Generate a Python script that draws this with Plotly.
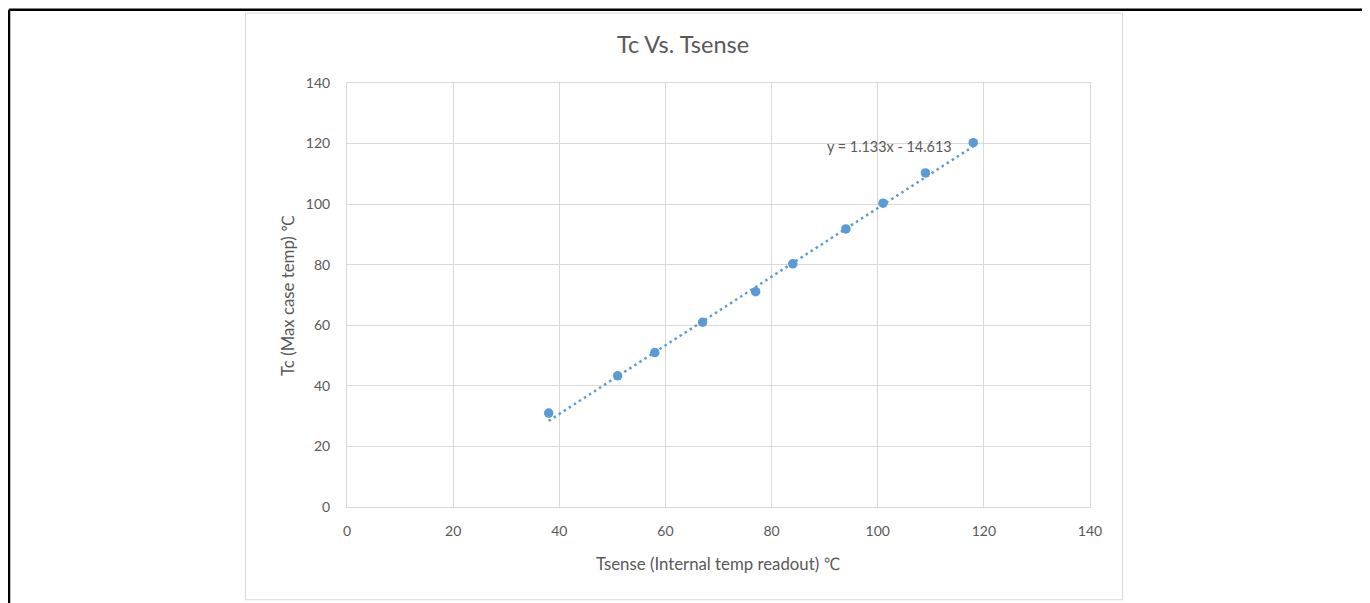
import plotly.graph_objects as go
import numpy as np

# Data
tsense = [38, 51, 58, 67, 77, 84, 94, 101, 109, 118]
tc = [31.0, 43.3, 51.0, 61.0, 71.1, 80.3, 91.8, 100.3, 110.3, 120.3]
trend_slope = 1.133
trend_intercept = -14.613
axis_ticks = [0, 20, 40, 60, 80, 100, 120, 140]

title_text = "Tc Vs. Tsense"
x_title = "Tsense (Internal temp readout) ℃"
y_title = "Tc (Max case temp) ℃"
eq_text = "y = 1.133x - 14.613"

FONT = "Lato, 'Liberation Sans Narrow', 'DejaVu Sans Condensed', sans-serif"
GRAY = "#595959"
BLUE = "#5B9BD5"
GRID = "#D9D9D9"

# The page body has an 8px margin, so the figure is drawn 8px in from the window edge.
OFF = 8
W, H = 1370 - OFF, 603 - OFF
# plot area in window pixels
L, R, T, B = 347, 1090, 82.5, 507.5
pw, ph = R - L, B - T


def px(x):
    return (x - L) / pw


def py(y):
    return (B - y) / ph


trend_x = np.array([min(tsense), max(tsense)], dtype=float)
trend_y = trend_slope * trend_x + trend_intercept

fig = go.Figure()
fig.add_trace(go.Scatter(
    x=trend_x, y=trend_y, mode="lines",
    line=dict(color=BLUE, width=2.5, dash="2.5px,3.5px"),
    hoverinfo="skip", showlegend=False,
))
fig.add_trace(go.Scatter(
    x=tsense, y=tc, mode="markers",
    marker=dict(color=BLUE, size=9.5),
    showlegend=False,
))

axis_common = dict(
    range=[0, 140], tickvals=axis_ticks, showgrid=True, gridcolor=GRID, gridwidth=1,
    zeroline=False, showline=True, linecolor=GRID, linewidth=1, mirror=True,
    ticks="", tickfont=dict(family=FONT, size=14, color=GRAY), fixedrange=True,
)

fig.update_layout(
    width=W, height=H,
    margin=dict(l=L - OFF, r=W - (R - OFF), t=T - OFF, b=H - (B - OFF), pad=0),
    paper_bgcolor="white", plot_bgcolor="white",
    xaxis=dict(**axis_common, ticklabelstandoff=11),
    yaxis=dict(**axis_common, ticklabelstandoff=13),
    title=dict(text=title_text, x=(683 - OFF) / W, xanchor="center", xref="container",
               y=1 - (45 - OFF) / H, yanchor="middle", yref="container",
               font=dict(family=FONT, size=23.5, color=GRAY)),
    annotations=[
        dict(text=x_title, xref="paper", yref="paper", x=px(718), y=py(564),
             xanchor="center", yanchor="middle", showarrow=False,
             font=dict(family=FONT, size=16.8, color=GRAY)),
        dict(text=y_title, xref="paper", yref="paper", x=px(288), y=py(296),
             xanchor="center", yanchor="middle", showarrow=False, textangle=-90,
             font=dict(family=FONT, size=16.8, color=GRAY)),
        dict(text=eq_text, xref="x", yref="y", x=(954 - L) / pw * 140,
             y=(B - 146) / ph * 140, xanchor="right", yanchor="middle", showarrow=False,
             font=dict(family=FONT, size=14.4, color=GRAY)),
    ],
    shapes=[
        # chart area border
        dict(type="rect", xref="paper", yref="paper", x0=px(245.5), x1=px(1122.5),
             y0=py(600.5), y1=py(12.5), line=dict(color=GRID, width=1), layer="below"),
        # outer black frame (left, top, right)
        dict(type="line", xref="paper", yref="paper", x0=px(OFF + 1), x1=px(OFF + 1),
             y0=py(OFF + 1), y1=py(640), line=dict(color="black", width=2.5)),
        dict(type="line", xref="paper", yref="paper", x0=px(OFF + 1), x1=px(1365),
             y0=py(OFF + 1), y1=py(OFF + 1), line=dict(color="black", width=2.5)),
        dict(type="line", xref="paper", yref="paper", x0=px(1365), x1=px(1365),
             y0=py(OFF + 1), y1=py(640), line=dict(color="black", width=3)),
    ],
)

fig.write_html("out.html")
